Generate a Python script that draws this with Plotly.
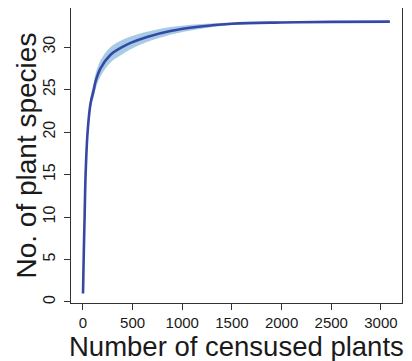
import plotly.graph_objects as go

# Rarefaction curve: number of censused plants vs. number of plant species
plants = [1, 5, 10, 17, 27, 47, 77, 110, 127, 177, 278, 380, 480, 646, 880, 1161, 1500, 2000, 2500, 3090]
species = [1, 3.5, 6.5, 10, 15, 20, 23.4, 25.0, 25.95, 27.5, 29.1, 29.9, 30.5, 31.2, 31.9, 32.4, 32.75, 32.9, 32.97, 33.0]
lower = [1, 3.4, 6.3, 9.65, 14.5, 19.4, 22.65, 24.15, 25.05, 26.55, 28.2, 29.05, 29.75, 30.6, 31.45, 32.1, 32.6, 32.82, 32.94, 33.0]
upper = [1, 3.6, 6.7, 10.35, 15.5, 20.6, 24.15, 25.85, 26.85, 28.45, 30.0, 30.75, 31.25, 31.8, 32.35, 32.7, 32.9, 32.98, 33.0, 33.0]

x_ticks = [0, 500, 1000, 1500, 2000, 2500, 3000]
y_ticks = [0, 5, 10, 15, 20, 25, 30]

line_color = "#3747a5"
band_color = "rgba(150,195,225,0.85)"
font_family = "Liberation Sans, Arial, sans-serif"

fig = go.Figure()
fig.add_trace(go.Scatter(x=plants, y=lower, mode="lines", line=dict(width=0, shape="spline", color=band_color),
                         showlegend=False, hoverinfo="skip"))
fig.add_trace(go.Scatter(x=plants, y=upper, mode="lines", line=dict(width=0, shape="spline", color=band_color),
                         fill="tonexty", fillcolor=band_color, showlegend=False, hoverinfo="skip"))
fig.add_trace(go.Scatter(x=plants, y=species, mode="lines", line=dict(width=2.6, shape="spline", color=line_color),
                         showlegend=False))

axis_common = dict(showline=True, mirror=True, linecolor="#333333", linewidth=1,
                   ticks="outside", ticklen=6, tickcolor="#333333", showgrid=False, zeroline=False,
                   automargin=False)

# The page body adds an 8px offset, so the figure is sized and margined to compensate.
fig.update_layout(
    width=404, height=353,
    margin=dict(l=63, r=10, t=0, b=58),
    paper_bgcolor="white", plot_bgcolor="white",
    font=dict(family=font_family, color="#1a1a1a"),
    xaxis=dict(range=[-120, 3212], tickvals=x_ticks, ticktext=[str(v) for v in x_ticks],
               ticklabelstandoff=0, tickfont=dict(family=font_family, size=15, color="#1a1a1a"),
               **axis_common),
    yaxis=dict(range=[-0.12, 34.6], tickvals=y_ticks, ticktext=[str(v) for v in y_ticks], tickangle=-90,
               ticklabelstandoff=3, tickfont=dict(family=font_family, size=16, color="#1a1a1a"),
               **axis_common),
    annotations=[
        dict(text="Number of censused plants", xref="paper", yref="paper", x=0.5, y=0,
             xanchor="center", yanchor="middle", yshift=-43, showarrow=False,
             font=dict(family=font_family, size=27.5, color="#1a1a1a")),
        dict(text="No. of plant species", xref="paper", yref="paper", x=0, y=0.5, textangle=-90,
             xanchor="center", yanchor="middle", xshift=-45, showarrow=False,
             font=dict(family=font_family, size=28, color="#1a1a1a")),
    ],
)

fig.write_html("out.html")
